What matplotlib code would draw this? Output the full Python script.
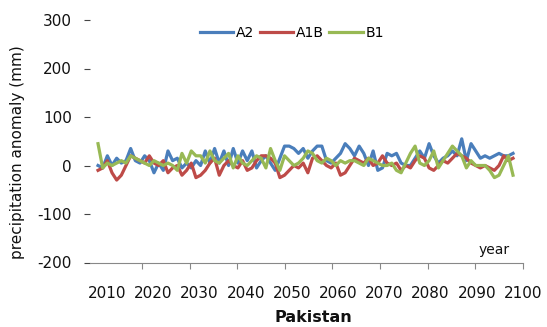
import matplotlib
matplotlib.use("Agg")
import matplotlib.pyplot as plt
import numpy as np

years = list(range(2010, 2100))

a2 = [0, -5, 20, 0, 15, 5, 10, 35, 10, 5,
      20, 10, -15, 5, -10, 30, 10, 15, -5, 5,
      -5, 10, 0, 30, 5, 35, 5, 30, 0, 35,
      5, 30, 10, 30, -5, 10, 20, 5, -10, 15,
      40, 40, 35, 25, 35, 15, 30, 40, 40, 10,
      5, 15, 25, 45, 35, 20, 40, 25, 0, 30,
      -10, -5, 25, 20, 25, 5, 0, 0, 15, 30,
      15, 45, 20, 5, 15, 20, 30, 20, 55, 10,
      45, 30, 15, 20, 15, 20, 25, 20, 20, 25]

a1b = [-10, -5, 10, -15, -30, -20, 0, 20, 15, 10,
       5, 20, 5, 0, 10, -15, -5, 0, -20, -10,
       5, -25, -20, -10, 5, 15, -20, 0, 10, 0,
       -5, 10, -10, -5, 10, 20, 20, 15, 5, -25,
       -20, -10, 0, -5, 5, -15, 15, 20, 10, 0,
       -5, 5, -20, -15, 0, 15, 10, 5, 15, 0,
       5, 20, 5, 0, 5, -10, 0, -5, 10, 20,
       15, -5, -10, 0, 10, 5, 15, 25, 20, 15,
       5, 0, -5, 0, -5, -10, 0, 20, 10, 15]

b1 = [45, -5, 5, 0, 5, 10, 5, 20, 15, 10,
      5, 0, 10, 5, 0, 5, 0, -10, 25, 5,
      30, 20, 20, 5, 30, 10, 5, 15, 25, -5,
      20, 5, 0, 10, 20, 15, -5, 35, 10, -10,
      20, 10, 0, 5, 15, 30, 25, 10, 5, 15,
      10, 0, 10, 5, 10, 10, 5, 0, 15, 10,
      5, 0, 0, 5, -10, -15, 5, 25, 40, 5,
      0, 10, 30, -5, 10, 25, 40, 30, 20, -5,
      10, 0, 0, 0, -10, -25, -20, 0, 20, -20]

series_names = ["A2", "A1B", "B1"]
colors = ["#4A7EBB", "#BE4B48", "#98B954"]

y_ticks = [-200, -100, 0, 100, 200, 300]
x_labels = ["2010", "2020", "2030", "2040", "2050", "2060", "2070", "2080", "2090", "2100"]

fig = plt.figure(figsize=(5.47, 3.27), dpi=100)
ax = fig.add_axes([90/547, 1-262.5/327, (523-90)/547, (262.5-20)/327])

for vals, name, c in zip([a2, a1b, b1], series_names, colors):
    ax.plot(years, vals, color=c, lw=2.3, label=name, solid_joinstyle="round")

ax.set_xlim(2008.28, 2101.14)
ax.set_ylim(-200, 300)

# y axis
ax.set_yticks(y_ticks)
ax.set_yticklabels([str(v) for v in y_ticks], fontsize=11, color="#111111")
ax.tick_params(axis="y", length=4, width=0.8, color="#444444", pad=9, direction="out")

# x axis: labels (no marks) and marks (minor, no labels)
label_pos = [2011.93 + 9.91 * i for i in range(len(x_labels))]
ax.set_xticks(label_pos)
ax.set_xticklabels(x_labels, fontsize=11, color="#111111")
ax.tick_params(axis="x", which="major", length=0, pad=17)
mark_pos = [2019.44 + 10.205 * i for i in range(9)]
ax.set_xticks(mark_pos, minor=True)
ax.tick_params(axis="x", which="minor", length=4, width=0.8, color="#888888", direction="out")

for s in ["top", "right", "left"]:
    ax.spines[s].set_visible(False)
ax.spines["bottom"].set_color("#888888")
ax.spines["bottom"].set_linewidth(0.8)

fig.text(18/547, 1-152/327, "precipitation anomaly (mm)", rotation=90,
         ha="center", va="center", fontsize=11, color="#111111")
fig.text(313/547, 1-318/327, "Pakistan", ha="center", va="center",
         fontsize=11.5, fontweight="bold", color="#111111")
fig.text(494/547, 1-250/327, "year", ha="center", va="center",
         fontsize=10, color="#111111")

leg = ax.legend(loc="center", bbox_to_anchor=(292/547, 1-33/327),
                bbox_transform=fig.transFigure, ncol=3, frameon=False,
                fontsize=10, handlelength=2.4, handletextpad=0.2,
                columnspacing=0.4, borderpad=0)

fig.savefig("out.png", dpi=100)
